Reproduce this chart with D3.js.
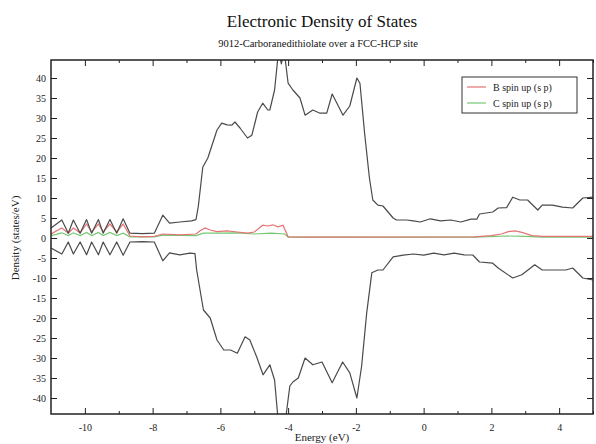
<!DOCTYPE html>
<html>
<head>
<meta charset="utf-8">
<script src="https://cdn.jsdelivr.net/npm/d3@7"></script>
<style>
  body { margin: 0; background: #fff; }
  svg { display: block; font-family: "Liberation Serif", "DejaVu Serif", serif; }
</style>
</head>
<body>
<div id="chart"></div>
<script>
// total DOS, spin up / spin down [energy, density]
var totalUp = [[-11, 2.5], [-10.68, 4.5], [-10.49, 1.2], [-10.34, 4.5], [-10.14, 1.2], [-9.95, 4.6], [-9.8, 1.2],
    [-9.6, 4.6], [-9.46, 1.2], [-9.26, 4.6], [-9.06, 1.2], [-8.87, 4.8], [-8.67, 1.2], [-8.3, 1.1], [-7.95, 1.2],
    [-7.7, 5.7], [-7.5, 3.7], [-7.2, 4.0], [-6.85, 4.3], [-6.72, 4.6], [-6.65, 8], [-6.52, 17.7], [-6.37, 20],
    [-6.1, 27], [-5.96, 28.7], [-5.8, 28.3], [-5.66, 28.2], [-5.57, 29], [-5.42, 27.5], [-5.2, 25], [-5.07, 25.7],
    [-4.9, 31.5], [-4.75, 33.7], [-4.6, 32], [-4.54, 32], [-4.4, 37], [-4.28, 47], [-4.2, 43.5], [-4.12, 47],
    [-4.0, 38.7], [-3.86, 37], [-3.65, 35], [-3.5, 30.7], [-3.27, 32], [-3.06, 31.2], [-2.86, 31.2], [-2.7, 36],
    [-2.56, 33.7], [-2.38, 30.7], [-2.18, 33], [-1.97, 40], [-1.88, 38.7], [-1.74, 26], [-1.6, 15], [-1.5, 9.5],
    [-1.35, 8.2], [-1.2, 8.0], [-0.9, 5], [-0.8, 4.5], [-0.5, 4.5], [-0.3, 4.3], [-0.1, 4.0], [0.2, 4.8],
    [0.5, 4.3], [0.8, 4.5], [1.1, 4.0], [1.4, 4.7], [1.57, 4.7], [1.65, 6], [2.04, 6.5], [2.2, 7.5], [2.45, 7.6],
    [2.63, 10.2], [2.84, 9.5], [3.07, 9.5], [3.37, 7], [3.5, 8.2], [3.8, 8.2], [4.1, 7.7], [4.4, 7.5], [4.7, 10],
    [5.0, 10.2]];

var totalDown = [[-11, -2.5], [-10.68, -4], [-10.49, -1], [-10.34, -4], [-10.14, -1], [-9.95, -4.2], [-9.8, -1],
    [-9.6, -4.2], [-9.46, -1], [-9.26, -4.2], [-9.06, -1], [-8.87, -4.3], [-8.67, -1], [-8.3, -0.9], [-7.95, -1],
    [-7.7, -5.7], [-7.5, -3.7], [-7.2, -4.2], [-6.9, -3.8], [-6.75, -3.9], [-6.7, -8], [-6.5, -18], [-6.3, -20],
    [-6.1, -25.5], [-5.9, -28], [-5.7, -28], [-5.5, -28.8], [-5.27, -24.7], [-5.13, -25.5], [-4.93, -29.7],
    [-4.74, -34.2], [-4.54, -31.7], [-4.4, -35.5], [-4.28, -47], [-4.18, -44], [-4.1, -47], [-3.95, -37],
    [-3.86, -36], [-3.7, -35], [-3.5, -30], [-3.27, -31.7], [-3.0, -31], [-2.7, -36.2], [-2.39, -31],
    [-2.18, -33.7], [-1.97, -40], [-1.83, -32], [-1.68, -18.7], [-1.53, -8.7], [-1.35, -8], [-1.2, -8],
    [-0.9, -4.7], [-0.6, -4.3], [-0.3, -4.0], [0, -4.3], [0.3, -3.8], [0.6, -4.2], [0.9, -3.8], [1.2, -4.2],
    [1.45, -4.25], [1.65, -6], [2.04, -6.3], [2.2, -7.5], [2.63, -10], [2.9, -9.2], [3.28, -6.7], [3.5, -8],
    [4.2, -8], [4.4, -7.5], [4.7, -10], [5.0, -10.5]];

// projected DOS
var bSpinUp = [[-11, 1.0], [-10.68, 2.5], [-10.49, 1.2], [-10.34, 2.5], [-10.14, 1.3], [-9.95, 3.5], [-9.8, 1.5],
    [-9.6, 3.5], [-9.46, 1.5], [-9.26, 3.5], [-9.06, 1.5], [-8.87, 3.5], [-8.67, 0.5], [-8.3, 0.3], [-7.95, 0.4],
    [-7.7, 1.0], [-7.2, 0.8], [-6.72, 1.0], [-6.6, 1.8], [-6.45, 2.5], [-6.3, 2.0], [-6.1, 1.6], [-5.8, 1.8],
    [-5.5, 1.5], [-5.2, 1.2], [-5.0, 1.5], [-4.75, 3.2], [-4.6, 3.0], [-4.45, 3.3], [-4.3, 2.8], [-4.15, 3.2],
    [-4.0, 0.3], [-3.5, 0.2], [1.5, 0.3], [2.0, 0.6], [2.3, 1.0], [2.5, 1.6], [2.7, 1.8], [2.9, 1.4],
    [3.2, 0.6], [3.5, 0.4], [5, 0.4]];

var cSpinUp = [[-11, 0.6], [-10.68, 1.3], [-10.49, 0.6], [-10.34, 1.3], [-10.14, 0.6], [-9.95, 1.4], [-9.8, 0.6],
    [-9.6, 1.4], [-9.46, 0.6], [-9.26, 1.4], [-9.06, 0.6], [-8.87, 1.2], [-8.67, 0.3], [-7.95, 0.3], [-7.7, 0.7],
    [-6.72, 0.6], [-6.5, 1.2], [-6.0, 1.2], [-5.5, 1.3], [-5.0, 1.0], [-4.5, 1.2], [-4.1, 1.0], [-4.0, 0.2],
    [1.5, 0.2], [2.5, 0.5], [3.0, 0.4], [3.5, 0.2], [5, 0.2]];

var xTicks = [-10, -8, -6, -4, -2, 0, 2, 4],
    xMinor = [-9, -7, -5, -3, -1, 1, 3, 5],
    yTicks = [-40, -35, -30, -25, -20, -15, -10, -5, 0, 5, 10, 15, 20, 25, 30, 35, 40],
    legendItems = [{ label: 'B spin up (s p)', color: '#e57373' }, { label: 'C spin up (s p)', color: '#74c874' }];

var W = 596, H = 444,
    m = { left: 51, right: 2, top: 60, bottom: 30 };

var svg = d3.select('#chart').append('svg').attr('width', W).attr('height', H);
svg.append('rect').attr('width', W).attr('height', H).attr('fill', '#fff');

var x = d3.scaleLinear().domain([-11, 5]).range([m.left, W - m.right - 1]);
var y = d3.scaleLinear().domain([-44, 44.5]).range([H - m.bottom, m.top]);

svg.append('clipPath').attr('id', 'clip').append('rect')
    .attr('x', x(-11)).attr('y', y(44.5)).attr('width', x(5) - x(-11)).attr('height', y(-44) - y(44.5));

var line = d3.line().x(d => x(d[0])).y(d => y(d[1]));
var plot = svg.append('g').attr('clip-path', 'url(#clip)');

// colored projections first, black total on top
plot.append('path').datum(cSpinUp).attr('d', line).attr('fill', 'none').attr('stroke', '#74c874').attr('stroke-width', 1.2);
plot.append('path').datum(bSpinUp).attr('d', line).attr('fill', 'none').attr('stroke', '#e57373').attr('stroke-width', 1.2);
[totalUp, totalDown].forEach(s => {
    plot.append('path').datum(s).attr('d', line).attr('fill', 'none').attr('stroke', '#4a4a4a')
        .attr('stroke-width', 1.2).attr('stroke-linejoin', 'round');
});

// axes, ticks inward on all sides
var fmt = d => d < 0 ? '-' + Math.abs(d) : d;
svg.append('g').attr('transform', 'translate(0,' + y(-44) + ')')
    .call(d3.axisBottom(x).tickValues(xTicks).tickSize(-6).tickPadding(10).tickFormat(fmt));
svg.append('g').attr('transform', 'translate(0,' + y(-44) + ')')
    .call(d3.axisBottom(x).tickValues(xMinor).tickSize(-3).tickFormat(''));
svg.append('g').attr('transform', 'translate(0,' + y(44.5) + ')')
    .call(d3.axisTop(x).tickValues(xTicks).tickSize(-6).tickFormat(''));
svg.append('g').attr('transform', 'translate(0,' + y(44.5) + ')')
    .call(d3.axisTop(x).tickValues(xMinor).tickSize(-3).tickFormat(''));
svg.append('g').attr('transform', 'translate(' + x(-11) + ',0)')
    .call(d3.axisLeft(y).tickValues(yTicks).tickSize(-6).tickPadding(5).tickFormat(fmt));
svg.append('g').attr('transform', 'translate(' + x(5) + ',0)')
    .call(d3.axisRight(y).tickValues(yTicks).tickSize(-6).tickFormat(''));

svg.selectAll('.domain').remove();
svg.selectAll('.tick line').attr('stroke', '#222');
svg.selectAll('.tick text').attr('font-family', '"Liberation Serif", serif').attr('font-size', 10).attr('fill', '#222');

svg.append('rect')
    .attr('x', x(-11)).attr('y', y(44.5)).attr('width', x(5) - x(-11)).attr('height', y(-44) - y(44.5))
    .attr('fill', 'none').attr('stroke', '#222').attr('stroke-width', 1.5);

// titles
var cx = (x(-11) + x(5)) / 2;
svg.append('text').attr('x', cx).attr('y', 27).attr('text-anchor', 'middle')
    .attr('font-size', 17).attr('fill', '#111').text('Electronic Density of States');
svg.append('text').attr('x', cx - 4).attr('y', 47).attr('text-anchor', 'middle')
    .attr('font-size', 10.5).attr('fill', '#111').text('9012-Carboranedithiolate over a FCC-HCP site');
svg.append('text').attr('x', cx).attr('y', 441).attr('text-anchor', 'middle')
    .attr('font-size', 11).attr('fill', '#222').text('Energy (eV)');
svg.append('text').attr('transform', 'translate(19,' + y(0) + ') rotate(-90)').attr('text-anchor', 'middle')
    .attr('font-size', 11).attr('fill', '#222').text('Density (states/eV)');

// legend
var lg = svg.append('g').attr('transform', 'translate(462,77)');
lg.append('rect').attr('width', 115).attr('height', 36).attr('fill', '#fff').attr('stroke', '#333').attr('stroke-width', 1);
legendItems.forEach((d, i) => {
    lg.append('line').attr('x1', 5).attr('x2', 24).attr('y1', 10 + i * 16).attr('y2', 10 + i * 16)
        .attr('stroke', d.color).attr('stroke-width', 1.2);
    lg.append('text').attr('x', 31).attr('y', 13.5 + i * 16).attr('font-size', 10).attr('fill', '#222').text(d.label);
});
</script>
</body>
</html>
